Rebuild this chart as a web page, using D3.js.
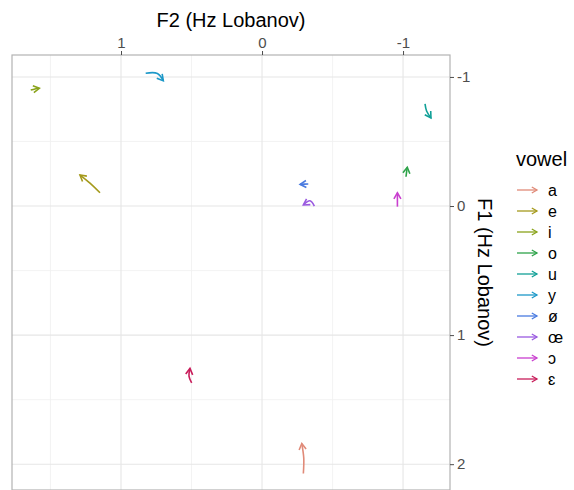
<!DOCTYPE html>
<html><head><meta charset="utf-8">
<script src="https://cdn.jsdelivr.net/npm/d3@7"></script>
<style>html,body{margin:0;padding:0;background:#fff;}svg{display:block;font-family:"Liberation Sans",Arial,sans-serif;}</style>
</head><body>
<svg id="chart" width="574" height="490"></svg>
<script>
const vowels = ["a","e","i","o","u","y","ø","œ","ɔ","ɛ"];
const colors = ["#e08a78","#a59a1c","#8aa31b","#2ea34a","#11a097","#1c98c8","#4a7be0","#9a5ae0","#c93fcf","#c81c5a"];
// Normalised formant trajectories (onset, midpoint, offset)
const f2Onset  = [-0.293, 1.149, 1.640, -1.021, -1.156, 0.825, -0.328, -0.371, -0.960, 0.499];
const f2Mid    = [-0.296, 1.220, 1.610, -1.025, -1.167, 0.742, -0.299, -0.340, -0.960, 0.518];
const f2Offset = [-0.282, 1.291, 1.579, -1.030, -1.198, 0.700, -0.270, -0.293, -0.960, 0.511];
const f1Onset  = [2.072, -0.103, -0.899, -0.227, -0.791, -1.029, -0.171, 0.000, 0.005, 1.370];
const f1Mid    = [1.953, -0.178, -0.907, -0.262, -0.736, -1.027, -0.170, -0.041, -0.050, 1.318];
const f1Offset = [1.840, -0.240, -0.912, -0.300, -0.682, -0.971, -0.168, -0.008, -0.103, 1.258];
const xTicks = [1, 0, -1];
const yTicks = [-1, 0, 1, 2];
const xMinor = [1.5, 0.5, -0.5];
const yMinor = [-0.5, 0.5, 1.5];

const svg = d3.select("#chart");
const L = 12, R = 450, T = 55, B = 490;
const x = d3.scaleLinear().domain([1.773, -1.333]).range([L, R]);
const y = d3.scaleLinear().domain([-1.17, 2.2]).range([T, B]);

// grid
const g = svg.append("g");
g.selectAll(".xm").data(xMinor).join("line").attr("x1", d=>x(d)).attr("x2", d=>x(d)).attr("y1", T).attr("y2", B).attr("stroke", "#f0f0f0").attr("stroke-width", 0.8);
g.selectAll(".ym").data(yMinor).join("line").attr("y1", d=>y(d)).attr("y2", d=>y(d)).attr("x1", L).attr("x2", R).attr("stroke", "#f0f0f0").attr("stroke-width", 0.8);
g.selectAll(".xM").data(xTicks).join("line").attr("x1", d=>x(d)).attr("x2", d=>x(d)).attr("y1", T).attr("y2", B).attr("stroke", "#e6e6e6").attr("stroke-width", 1.1);
g.selectAll(".yM").data(yTicks).join("line").attr("y1", d=>y(d)).attr("y2", d=>y(d)).attr("x1", L).attr("x2", R).attr("stroke", "#e6e6e6").attr("stroke-width", 1.1);

// panel border
svg.append("rect").attr("x", L).attr("y", T).attr("width", R-L).attr("height", B-T).attr("fill","none").attr("stroke","#b3b3b3").attr("stroke-width",1.2);

// axes
const xAxis = d3.axisTop(x).tickValues(xTicks).tickSize(4).tickPadding(3).tickFormat(d=> d<0 ? "-" + Math.abs(d) : String(d));
const xa = svg.append("g").attr("transform", `translate(0,${T})`).call(xAxis);
const yAxis = d3.axisRight(y).tickValues(yTicks).tickSize(4).tickPadding(3).tickFormat(d=> d<0 ? "-" + Math.abs(d) : String(d));
const ya = svg.append("g").attr("transform", `translate(${R},0)`).call(yAxis);
[xa, ya].forEach(a => {
  a.select(".domain").remove();
  a.selectAll(".tick line").attr("stroke", "#4d4d4d").attr("stroke-width", 1);
  a.selectAll(".tick text").attr("fill", "#4d4d4d").style("font-size", "15px").style("font-family", "Liberation Sans, Arial, sans-serif");
});

svg.append("text").attr("x", (L+R)/2).attr("y", 27).attr("text-anchor","middle").style("font-size","20px").attr("fill","#000").text("F2 (Hz Lobanov)");
svg.append("text").attr("transform", `translate(478,${(T+B)/2}) rotate(90)`).attr("text-anchor","middle").style("font-size","20px").attr("fill","#000").text("F1 (Hz Lobanov)");

// trajectories
const line = d3.line().x(d=>x(d[0])).y(d=>y(d[1])).curve(d3.curveCatmullRom.alpha(0.5));
function head(p1, p2, len, ang) {
  const a = Math.atan2(p2[1]-p1[1], p2[0]-p1[0]);
  const l = [p2[0] - len*Math.cos(a - ang), p2[1] - len*Math.sin(a - ang)];
  const r = [p2[0] - len*Math.cos(a + ang), p2[1] - len*Math.sin(a + ang)];
  return `M${l[0]},${l[1]}L${p2[0]},${p2[1]}L${r[0]},${r[1]}`;
}
vowels.forEach((v, i) => {
  const pts = [[f2Onset[i], f1Onset[i]], [f2Mid[i], f1Mid[i]], [f2Offset[i], f1Offset[i]]];
  svg.append("path").attr("d", line(pts)).attr("fill","none").attr("stroke", colors[i]).attr("stroke-width",1.6).attr("stroke-linecap","butt");
  const p1 = [x(pts[1][0]), y(pts[1][1])], p2 = [x(pts[2][0]), y(pts[2][1])];
  svg.append("path").attr("d", head(p1, p2, 7, Math.PI/6)).attr("fill","none").attr("stroke", colors[i]).attr("stroke-width",1.6);
});

// legend
svg.append("text").attr("x", 516).attr("y", 166).style("font-size","20px").attr("fill","#000").text("vowel");
const lg = svg.append("g");
vowels.forEach((v, i) => {
  const yy = 190 + i*21;
  lg.append("line").attr("x1", 517).attr("x2", 537).attr("y1", yy).attr("y2", yy).attr("stroke", colors[i]).attr("stroke-width", 1.3);
  lg.append("path").attr("d", head([517, yy], [537, yy], 6, Math.PI/6)).attr("fill","none").attr("stroke", colors[i]).attr("stroke-width", 1.3);
  lg.append("text").attr("x", 548).attr("y", yy + 6).style("font-size","16px").attr("fill","#000").text(v);
});
</script>
</body></html>
